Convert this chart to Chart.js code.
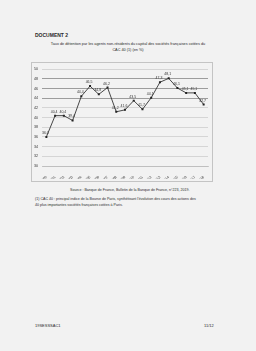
<!DOCTYPE html>
<html>
<head>
<meta charset="utf-8">
<script src="https://cdn.jsdelivr.net/npm/chart.js@4.4.1/dist/chart.umd.min.js"></script>
<style>
  html, body { margin: 0; padding: 0; }
  body { width: 256px; height: 351px; background: #f2f2f2; position: relative; overflow: hidden;
         font-family: "Liberation Sans", Arial, sans-serif; color: #2a2a2a; }
  .t { position: absolute; white-space: nowrap; }
  #cadre { position: absolute; left: 31px; top: 62px; width: 182px; height: 120px;
           border: 1px solid #c4c4c4; box-sizing: border-box; }
</style>
</head>
<body>
<div class="t" style="left:35px;top:32px;font-size:5px;font-weight:bold;">DOCUMENT 2</div>
<div class="t" style="left:0;width:256px;top:42px;font-size:3.8px;text-align:center;line-height:5.5px;">
  Taux de détention par les agents non-résidents du capital des sociétés françaises cotées du<br>CAC 40 (1) (en %)
</div>

<div id="cadre"><canvas id="chartCac"></canvas></div>

<div class="t" style="left:70px;top:188px;font-size:3.6px;">Source : Banque de France, Bulletin de la Banque de France, n°223, 2019.</div>
<div class="t" style="left:35px;top:197px;font-size:3.6px;line-height:5.5px;">
  (1) CAC 40 : principal indice de la Bourse de Paris, synthétisant l'évolution des cours des actions des<br>40 plus importantes sociétés françaises cotées à Paris.
</div>

<div class="t" style="left:35px;top:323px;font-size:4px;">19SESSSAC1</div>
<div class="t" style="left:204px;top:323px;font-size:4px;">11/12</div>

<script>
const annees = ['2000','2001','2002','2003','2004','2005','2006','2007','2008','2009',
                '2010','2011','2012','2013','2014','2015','2016','2017','2018'];
const tauxDetention = [36.0, 40.4, 40.4, 39.4, 44.4, 46.5, 44.8, 46.2, 41.2, 41.6,
                       43.5, 41.7, 44.1, 47.3, 48.1, 46.1, 45.1, 45.1, 42.7];
const ticksY = [30, 32, 34, 36, 38, 40, 42, 44, 46, 48, 50];

// etiquettes de valeur au dessus des points
const etiquettes = {
    id: 'etiquettes',
    afterDatasetsDraw(chart) {
        const ctx = chart.ctx;
        const meta = chart.getDatasetMeta(0);
        ctx.save();
        ctx.font = '3.5px "Liberation Sans", Arial, sans-serif';
        ctx.fillStyle = '#333';
        ctx.textAlign = 'center';
        meta.data.forEach((pt, i) => {
            const txt = tauxDetention[i].toFixed(1).replace('.', ',');
            ctx.fillText(txt, pt.x - 1, pt.y - 3);
        });
        ctx.restore();
    }
};

const ctx = document.getElementById('chartCac').getContext('2d');
new Chart(ctx, {
    type: 'line',
    data: {
        labels: annees,
        datasets: [{
            data: tauxDetention,
            borderColor: '#333',
            borderWidth: 0.9,
            pointStyle: 'rect',
            pointRadius: 1.4,
            pointBackgroundColor: '#222',
            pointBorderColor: '#222',
            pointBorderWidth: 0,
            tension: 0,
            fill: false
        }]
    },
    options: {
        responsive: true,
        maintainAspectRatio: false,
        animation: false,
        devicePixelRatio: 1,
        layout: { padding: { top: 3, right: 3, bottom: 2, left: 0 } },
        plugins: { legend: { display: false }, tooltip: { enabled: false } },
        scales: {
            x: {
                offset: true,
                grid: { display: false },
                border: { color: '#b0b0b0', width: 0.6 },
                ticks: {
                    autoSkip: false,
                    minRotation: 45, maxRotation: 45, padding: 1,
                    color: '#333',
                    font: { size: 3.6, family: '"Liberation Sans", Arial, sans-serif' }
                },
                afterFit(scale) { scale.height = 13; }
            },
            y: {
                min: 30, max: 50,
                afterBuildTicks(scale) { scale.ticks = ticksY.map(v => ({ value: v })); },
                border: { display: false },
                grid: {
                    drawTicks: false,
                    lineWidth: 0.7,
                    color: c => (c.tick && c.tick.value >= 44 && c.tick.value <= 48) ? '#777' : '#c8c8c8'
                },
                ticks: {
                    padding: 4,
                    color: '#333',
                    font: { size: 3.6, family: '"Liberation Sans", Arial, sans-serif' }
                },
                afterFit(scale) { scale.width = 10; }
            }
        }
    },
    plugins: [etiquettes]
});
</script>
</body>
</html>
